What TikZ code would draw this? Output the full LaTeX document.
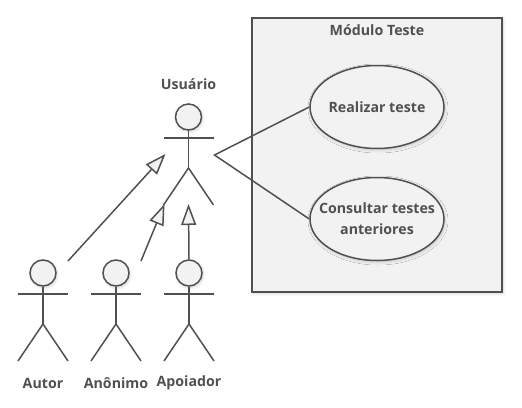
\documentclass[tikz,border=0pt]{standalone}
\usepackage{fontspec}
\setmainfont{Open Sans}
\usetikzlibrary{positioning,arrows.meta,shapes.geometric,shadows.blur}
\definecolor{linegray}{HTML}{505050}
\definecolor{fillgray}{HTML}{F2F2F2}
\tikzset{
	softshadow/.style={blur shadow={shadow xshift=1pt, shadow yshift=-1.5pt, shadow blur radius=3pt, shadow blur steps=12, shadow opacity=18}},
	actorline/.style={draw=linegray, line width=1.5pt},
	actorhead/.style={circle, actorline, fill=fillgray, minimum size=26pt, inner sep=0pt, softshadow},
	actorlabel/.style={text=linegray, font=\bfseries\fontsize{14.2}{17}\selectfont, inner sep=0pt},
	usecase/.style={ellipse, actorline, fill=fillgray, minimum width=134pt, minimum height=83pt, inner xsep=-14pt, inner ysep=0pt, align=center, text=linegray, font=\bfseries\fontsize{14.2}{21}\selectfont, softshadow},
	module/.style={rectangle, actorline, fill=fillgray, minimum width=250pt, minimum height=274pt, inner sep=0pt, softshadow},
	inherits/.style={actorline, -{Triangle[open, length=21pt, width=15pt, fill=fillgray]}},
	assoc/.style={actorline}
}
\begin{document}
\begin{tikzpicture}[x=1pt, y=-1pt]
	\useasboundingbox (0, 0) rectangle (522, 407);

	% module box
	\node[module] (modulo) at (377, 155) {};
	\node[actorlabel] (modulotitle) at (377, 30) {Módulo Teste};

	% use cases
	\node[usecase] (realizar) at (377, 107) {Realizar teste};
	\node[usecase] (consultar) at (377, 219) {Consultar testes\\anteriores};

	% actors
	\foreach \name/\x/\y in {usuario/188.5/117, autor/43/273, anonimo/116/273, apoiador/189/273} {
		\node[actorhead] (\name) at (\x, \y) {};
		\draw[actorline] (\name.south) -- (\x, \y + 51);
		\draw[actorline] (\x - 25, \y + 21) -- (\x + 25, \y + 21);
		\draw[actorline] (\x - 25, \y + 88) -- (\x, \y + 51) -- (\x + 25, \y + 88);
		\coordinate (\name-top) at (\x + 25, \y - 12);
		\coordinate (\name-hand) at (\x + 26, \y + 38);
		\coordinate (\name-side) at (\x - 23, \y + 37);
		\coordinate (\name-foot) at (\x - 24, \y + 87);
		\coordinate (\name-base) at (\x, \y + 87);
	}

	% actor labels
	\node[actorlabel, above=13pt of usuario] (usuariolabel) {Usuário};
	\node[actorlabel] (autorlabel) at (43, 383) {Autor};
	\node[actorlabel] (anonimolabel) at (116, 383) {Anônimo};
	\node[actorlabel] (apoiadorlabel) at (189, 383) {Apoiador};

	% generalizations
	\draw[inherits] (autor-top) -- (usuario-side);
	\draw[inherits] (anonimo-top) -- (usuario-foot);
	\draw[inherits] (apoiador.north) -- (usuario-base);

	% associations
	\draw[assoc] (realizar.west) -- (usuario-hand) -- (consultar.west);
\end{tikzpicture}
\end{document}
